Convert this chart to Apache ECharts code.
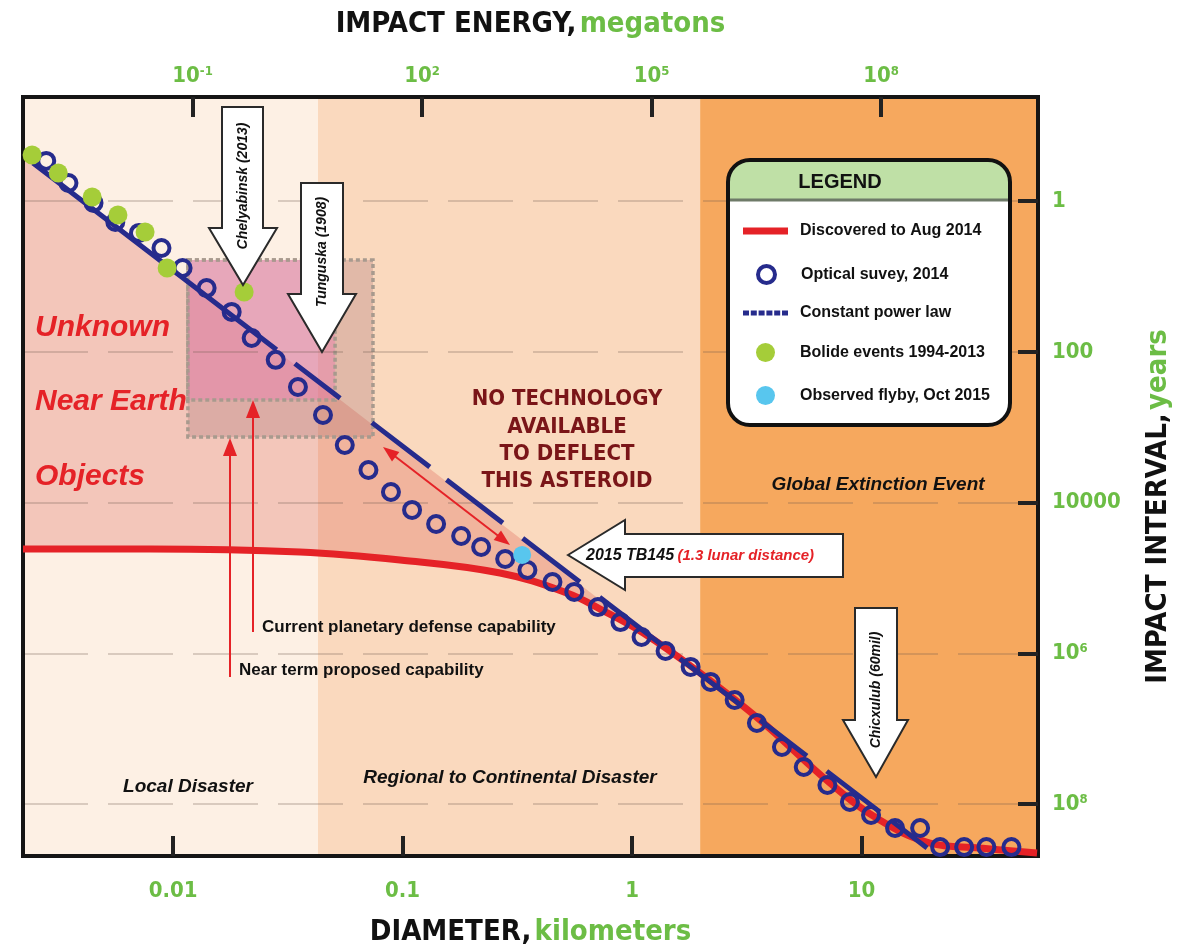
<!DOCTYPE html>
<html>
<head>
<meta charset="utf-8">
<script src="https://cdn.jsdelivr.net/npm/echarts@6/dist/echarts.min.js"></script>
<style>
  html, body { margin: 0; padding: 0; background: #ffffff; }
  #chart { width: 1191px; height: 947px; }
</style>
</head>
<body>
<div id="chart"></div>
<script>
// Near-Earth asteroid impact interval versus diameter

const NARROW = "'Liberation Sans Narrow','DejaVu Sans Condensed','Arial Narrow',sans-serif";
const SANS = "'Liberation Sans',Arial,sans-serif";
const GREEN = '#6CBD45';
const RED = '#E52227';
const NAVY = '#262B8C';
const FRAME = '#151515';

// Axis limits: diameter in km, impact interval in years
const diameterRange = [0.002218, 58.75];
const intervalRange = [0.0418, 4.86e8];
// Top axis counts impact energy in tenths of a megaton (1 -> 10^-1 Mt, 1000 -> 10^2 Mt, ...)
const energyRange = [0.006067, 1.127e11];

// Damage bands along the diameter axis
const bandEdges = [0.002218, 0.0428, 1.98, 58.75];
const bandColors = ['#FDF0E4', '#FAD9BE', '#F6A85E'];

// Discovered to Aug 2014
const discoveredD = [0.002218, 0.00794, 0.0357, 0.0975, 0.266, 0.521, 0.726, 1.12, 1.98, 3.61, 7.29, 12.0, 19.9, 32.8, 58.2];
const discoveredYears = [41200, 41200, 45200, 57700, 85900, 158000, 258000, 536000, 1.82e6, 7.64e6, 5.24e7, 1.62e8, 3.27e8, 3.81e8, 4.44e8];

// Optical survey, 2014
const surveyD = [0.0028, 0.0035, 0.0045, 0.0056, 0.0071, 0.0089, 0.011, 0.014, 0.018, 0.022,
                 0.028, 0.035, 0.045, 0.056, 0.071, 0.089, 0.11, 0.14, 0.18, 0.22,
                 0.28, 0.35, 0.45, 0.56, 0.71, 0.89, 1.1, 1.4, 1.8, 2.2,
                 2.8, 3.5, 4.5, 5.6, 7.1, 8.9, 11, 14, 18, 22,
                 28, 35, 45];
const surveyYears = [0.294, 0.577, 1.06, 1.90, 2.65, 4.20, 7.74, 14.3, 29.6, 65.6,
                     128, 293, 689, 1720, 3700, 7230, 12500, 19200, 27700, 38800,
                     56000, 78300, 113000, 153000, 243000, 384000, 605000, 929000, 1.51e6, 2.39e6,
                     4.15e6, 8.38e6, 1.74e7, 3.21e7, 5.56e7, 9.35e7, 1.39e8, 2.07e8, 2.07e8, 3.70e8,
                     3.70e8, 3.70e8, 3.70e8];

// Constant power law (a straight line on log-log axes)
const powerLawD = [0.00245, 19.3];
const powerLawYears = [0.313, 3.81e8];

// Bolide events 1994-2013 (last one is Chelyabinsk)
const bolideD = [0.00243, 0.00316, 0.00444, 0.00575, 0.00755, 0.00942, 0.0204];
const bolideYears = [0.245, 0.426, 0.885, 1.53, 2.58, 7.74, 16.1];

// Observed flyby, Oct 2015 (2015 TB145)
const flybyD = [0.332];
const flybyYears = [49500];

// Upper edge of the undiscovered-object gap (on the power law)
const gapTopD = [0.002218, 1.12];
const gapTopYears = [0.25, 5.4e5];

// Capability boxes: [corner, corner] as [diameter km, years]
const outerBox = [[0.0116, 6.06], [0.0743, 1350]];
const innerBox = [[0.0116, 6.06], [0.0508, 436]];
const boxFills = ['rgba(160,105,110,0.28)', 'rgba(236,120,175,0.42)'];

const pairs = (xs, ys) => xs.map((x, i) => [x, ys[i]]);

const tickFont = { fontFamily: NARROW, fontWeight: 'bold', fontSize: 22, color: GREEN };
const tickRich = {
  b: { fontFamily: NARROW, fontWeight: 'bold', fontSize: 22, color: GREEN },
  s: { fontFamily: NARROW, fontWeight: 'bold', fontSize: 13, color: GREEN, verticalAlign: 'top' }
};
const titleRich = {
  a: { fontFamily: NARROW, fontWeight: 'bold', fontSize: 29, color: '#111111' },
  g: { fontFamily: NARROW, fontWeight: 'bold', fontSize: 29, color: GREEN }
};
const pow10 = (e) => '{b|10}{s|' + e + '}';
const tickStyle = { show: true, inside: true, length: 20, lineStyle: { color: '#222222', width: 4 } };
const frameLine = { show: true, lineStyle: { color: FRAME, width: 4 } };

// Gap polygon: power-law edge on top, discovered curve underneath
const gapLowerD = discoveredD.filter(d => d <= gapTopD[1] + 1e-9);
const gapLowerY = discoveredYears.slice(0, gapLowerD.length);

function rectFromCorners(api, a, b) {
  const p = api.coord(a), q = api.coord(b);
  return { x: Math.min(p[0], q[0]), y: Math.min(p[1], q[1]), width: Math.abs(q[0] - p[0]), height: Math.abs(q[1] - p[1]) };
}

function arrowHead(x1, y1, x2, y2, len, half) {
  const dx = x2 - x1, dy = y2 - y1, L = Math.hypot(dx, dy);
  const ux = dx / L, uy = dy / L;
  const bx = x2 - ux * len, by = y2 - uy * len;
  return [[x2, y2], [bx - uy * half, by + ux * half], [bx + uy * half, by - ux * half]];
}

const calloutStyle = { fill: '#ffffff', stroke: '#2a2a2a', lineWidth: 2 };
const graphics = [
  // Callout arrows
  { type: 'polygon', z: 10, shape: { points: [[222,107],[263,107],[263,228],[277,228],[243,285],[209,228],[222,228]] }, style: calloutStyle },
  { type: 'text', z: 11, x: 243, y: 186, rotation: Math.PI / 2,
    style: { text: 'Chelyabinsk (2013)', fill: '#111', font: 'italic bold 14px ' + SANS, align: 'center', verticalAlign: 'middle' } },
  { type: 'polygon', z: 10, shape: { points: [[301,183],[343,183],[343,294],[356,294],[322,352],[288,294],[301,294]] }, style: calloutStyle },
  { type: 'text', z: 11, x: 322, y: 252, rotation: Math.PI / 2,
    style: { text: 'Tunguska (1908)', fill: '#111', font: 'italic bold 14px ' + SANS, align: 'center', verticalAlign: 'middle' } },
  { type: 'polygon', z: 10, shape: { points: [[855,608],[897,608],[897,720],[908,720],[876,777],[843,720],[855,720]] }, style: calloutStyle },
  { type: 'text', z: 11, x: 876, y: 690, rotation: Math.PI / 2,
    style: { text: 'Chicxulub (60mil)', fill: '#111', font: 'italic bold 14px ' + SANS, align: 'center', verticalAlign: 'middle' } },
  { type: 'polygon', z: 10, shape: { points: [[568,555],[625,520],[625,534],[843,534],[843,577],[625,577],[625,590]] }, style: calloutStyle },
  { type: 'text', z: 11, x: 586, y: 556,
    style: { text: '{a|2015 TB145} {b|(1.3 lunar distance)}', align: 'left', verticalAlign: 'middle',
      rich: { a: { fontFamily: SANS, fontStyle: 'italic', fontWeight: 'bold', fontSize: 16, fill: '#111' },
              b: { fontFamily: SANS, fontStyle: 'italic', fontWeight: 'bold', fontSize: 15, fill: RED } } } },

  // Capability arrows
  { type: 'line', z: 10, shape: { x1: 253, y1: 632, x2: 253, y2: 416 }, style: { stroke: RED, lineWidth: 2 } },
  { type: 'polygon', z: 10, shape: { points: arrowHead(253, 632, 253, 400, 18, 7) }, style: { fill: RED } },
  { type: 'line', z: 10, shape: { x1: 230, y1: 677, x2: 230, y2: 454 }, style: { stroke: RED, lineWidth: 2 } },
  { type: 'polygon', z: 10, shape: { points: arrowHead(230, 677, 230, 438, 18, 7) }, style: { fill: RED } },
  // Double arrow along the power law
  { type: 'line', z: 10, shape: { x1: 392, y1: 454, x2: 501, y2: 538 }, style: { stroke: RED, lineWidth: 2 } },
  { type: 'polygon', z: 10, shape: { points: arrowHead(383, 447, 510, 545, 16, 6) }, style: { fill: RED } },
  { type: 'polygon', z: 10, shape: { points: arrowHead(510, 545, 383, 447, 16, 6) }, style: { fill: RED } },

  // Annotation text
  { type: 'text', z: 11, x: 35, y: 328, style: { text: 'Unknown', fill: RED, font: 'italic bold 30px ' + SANS, verticalAlign: 'middle' } },
  { type: 'text', z: 11, x: 35, y: 402, style: { text: 'Near Earth', fill: RED, font: 'italic bold 30px ' + SANS, verticalAlign: 'middle' } },
  { type: 'text', z: 11, x: 35, y: 477, style: { text: 'Objects', fill: RED, font: 'italic bold 30px ' + SANS, verticalAlign: 'middle' } },
  { type: 'text', z: 11, x: 567, y: 399, style: { text: 'NO TECHNOLOGY', fill: '#7A1518', font: 'bold 22px ' + NARROW, align: 'center', verticalAlign: 'middle' } },
  { type: 'text', z: 11, x: 567, y: 427, style: { text: 'AVAILABLE', fill: '#7A1518', font: 'bold 22px ' + NARROW, align: 'center', verticalAlign: 'middle' } },
  { type: 'text', z: 11, x: 567, y: 454, style: { text: 'TO DEFLECT', fill: '#7A1518', font: 'bold 22px ' + NARROW, align: 'center', verticalAlign: 'middle' } },
  { type: 'text', z: 11, x: 567, y: 481, style: { text: 'THIS ASTEROID', fill: '#7A1518', font: 'bold 22px ' + NARROW, align: 'center', verticalAlign: 'middle' } },
  { type: 'text', z: 11, x: 878, y: 485, style: { text: 'Global Extinction Event', fill: '#111', font: 'italic bold 19px ' + SANS, align: 'center', verticalAlign: 'middle' } },
  { type: 'text', z: 11, x: 188, y: 787, style: { text: 'Local Disaster', fill: '#111', font: 'italic bold 19px ' + SANS, align: 'center', verticalAlign: 'middle' } },
  { type: 'text', z: 11, x: 510, y: 778, style: { text: 'Regional to Continental Disaster', fill: '#111', font: 'italic bold 19px ' + SANS, align: 'center', verticalAlign: 'middle' } },
  { type: 'text', z: 11, x: 262, y: 627, style: { text: 'Current planetary defense capability', fill: '#111', font: 'bold 17px ' + SANS, verticalAlign: 'middle' } },
  { type: 'text', z: 11, x: 239, y: 670, style: { text: 'Near term proposed capability', fill: '#111', font: 'bold 17px ' + SANS, verticalAlign: 'middle' } },

  // Legend frame
  { type: 'rect', z: 20, shape: { x: 728, y: 160, width: 282, height: 265, r: 22 }, style: { fill: '#ffffff' } },
  { type: 'rect', z: 21, shape: { x: 729, y: 161, width: 280, height: 39, r: [21, 21, 0, 0] }, style: { fill: '#BFE0A6' } },
  { type: 'line', z: 21, shape: { x1: 729, y1: 200, x2: 1009, y2: 200 }, style: { stroke: '#6E7A68', lineWidth: 3 } },
  { type: 'rect', z: 22, shape: { x: 728, y: 160, width: 282, height: 265, r: 22 }, style: { fill: null, stroke: '#111', lineWidth: 4 } },
  { type: 'text', z: 22, x: 840, y: 182, style: { text: 'LEGEND', fill: '#111', font: 'bold 20px ' + SANS, align: 'center', verticalAlign: 'middle' } }
];

function legendRow(name, left, top, iconH, extra) {
  return Object.assign({
    data: [name], left: left, top: top, padding: 0, itemWidth: 45, itemHeight: iconH,
    selectedMode: false, z: 30,
    textStyle: { fontFamily: SANS, fontWeight: 'bold', fontSize: 16, color: '#111', padding: [0, 0, 0, 7] }
  }, extra);
}

const option = {
  animation: false,
  backgroundColor: '#ffffff',
  grid: { left: 23, right: 153, top: 97, bottom: 91, outerBoundsMode: 'none', containLabel: false,
          show: true, borderColor: FRAME, borderWidth: 4, backgroundColor: 'transparent' },
  xAxis: [
    {
      type: 'log', position: 'bottom', min: diameterRange[0], max: diameterRange[1],
      axisLine: frameLine, axisTick: tickStyle, splitLine: { show: false },
      axisLabel: Object.assign({ margin: 24, showMinLabel: false, showMaxLabel: false,
        formatter: v => { const e = Math.round(Math.log10(v)); return e < 0 ? v.toFixed(-e) : String(Math.pow(10, e)); } }, tickFont),
      name: '{a|DIAMETER,} {g|kilometers}', nameLocation: 'middle', nameGap: 62,
      nameTextStyle: { rich: titleRich }
    },
    {
      type: 'log', logBase: 1000, position: 'top', min: energyRange[0], max: energyRange[1],
      axisLine: frameLine, axisTick: tickStyle, splitLine: { show: false },
      axisLabel: Object.assign({ margin: 10, showMinLabel: false, showMaxLabel: false, rich: tickRich,
        formatter: v => pow10(Math.round(Math.log10(v)) - 1) }, tickFont),
      name: '{a|IMPACT ENERGY,} {g|megatons}', nameLocation: 'middle', nameGap: 58,
      nameTextStyle: { rich: titleRich }
    }
  ],
  yAxis: [
    {
      type: 'log', logBase: 100, position: 'right', inverse: true, min: intervalRange[0], max: intervalRange[1],
      axisLine: frameLine, axisTick: tickStyle,
      splitLine: { show: true, lineStyle: { color: 'rgba(110,90,80,0.33)', width: 1.5, type: [65, 20] } },
      axisLabel: Object.assign({ margin: 14, showMinLabel: false, showMaxLabel: false, rich: tickRich,
        formatter: v => { const e = Math.round(Math.log10(v)); return e <= 4 ? String(Math.pow(10, e)) : pow10(e); } }, tickFont),
      name: '{a|IMPACT INTERVAL,} {g|years}', nameLocation: 'middle', nameRotate: 90, nameGap: 106,
      nameTextStyle: { rich: titleRich, padding: [0, 60, 0, 0] }
    },
    {
      // Left edge of the frame
      type: 'log', logBase: 100, position: 'left', inverse: true, min: intervalRange[0], max: intervalRange[1],
      axisLine: frameLine, axisTick: { show: false }, axisLabel: { show: false }, splitLine: { show: false }
    }
  ],
  legend: [
    legendRow('Discovered to Aug 2014', 743, 223, 7, { data: [{ name: 'Discovered to Aug 2014', icon: 'rect', itemStyle: { color: RED } }] }),
    legendRow('Optical suvey, 2014', 756, 264, 17, { itemStyle: { color: 'rgba(0,0,0,0)', borderColor: NAVY, borderWidth: 4 } }),
    legendRow('Constant power law', 743, 305, 5, { data: [{ name: 'Constant power law',
      icon: 'path://M0,0h6v5h-6z M7.8,0h6v5h-6z M15.6,0h6v5h-6z M23.4,0h6v5h-6z M31.2,0h6v5h-6z M39,0h6v5h-6z',
      itemStyle: { color: NAVY } }] }),
    legendRow('Bolide events 1994-2013', 756, 343, 19),
    legendRow('Observed flyby, Oct 2015', 756, 386, 19)
  ],
  graphic: graphics,
  series: [
    {
      // Damage bands
      name: 'bands', type: 'custom', z: -3, silent: true,
      data: bandColors.map((c, i) => [bandEdges[i], bandEdges[i + 1]]),
      renderItem: (params, api) => ({
        type: 'rect',
        shape: rectFromCorners(api, [api.value(0), intervalRange[0]], [api.value(1), intervalRange[1]]),
        style: { fill: bandColors[params.dataIndex] }
      })
    },
    {
      // Undiscovered objects between power law and discovered curve
      name: 'gap', type: 'custom', z: -2, silent: true, data: [[gapTopD[0], gapTopYears[0]]],
      renderItem: (params, api) => {
        const pts = gapTopD.map((d, i) => api.coord([d, gapTopYears[i]]));
        for (let i = gapLowerD.length - 1; i >= 0; i--) pts.push(api.coord([gapLowerD[i], gapLowerY[i]]));
        return { type: 'polygon', shape: { points: pts }, style: { fill: 'rgba(215,70,60,0.25)' } };
      }
    },
    {
      // Chelyabinsk-to-Tunguska capability boxes
      name: 'boxes', type: 'custom', z: -1, silent: true,
      data: [outerBox[0].concat(outerBox[1]), innerBox[0].concat(innerBox[1])],
      renderItem: (params, api) => ({
        type: 'rect',
        shape: rectFromCorners(api, [api.value(0), api.value(1)], [api.value(2), api.value(3)]),
        style: { fill: boxFills[params.dataIndex], stroke: '#A89A8E', lineWidth: 3.5, lineDash: [4, 3] }
      })
    },
    {
      name: 'Discovered to Aug 2014', type: 'line', z: 3, data: pairs(discoveredD, discoveredYears),
      smooth: 0.4, symbol: 'none', lineStyle: { color: RED, width: 7 }, itemStyle: { color: RED }
    },
    {
      name: 'Constant power law', type: 'line', z: 4, data: pairs(powerLawD, powerLawYears),
      symbol: 'none', itemStyle: { color: NAVY },
      lineStyle: { color: NAVY, width: 5, cap: 'butt',
        type: [307, 23, 57, 40, 73, 21, 71, 25, 72, 25, 76, 25, 76, 25, 59, 25, 67, 16, 100, 20] }
    },
    {
      name: 'Optical suvey, 2014', type: 'scatter', z: 5, data: pairs(surveyD, surveyYears),
      symbol: 'circle', symbolSize: 16,
      itemStyle: { color: 'rgba(0,0,0,0)', borderColor: NAVY, borderWidth: 4, opacity: 1 }
    },
    {
      name: 'Bolide events 1994-2013', type: 'scatter', z: 6, data: pairs(bolideD, bolideYears),
      symbol: 'circle', symbolSize: 19, itemStyle: { color: '#A5CD39', opacity: 1 }
    },
    {
      name: 'Observed flyby, Oct 2015', type: 'scatter', z: 7, data: pairs(flybyD, flybyYears),
      symbol: 'circle', symbolSize: 18, itemStyle: { color: '#58C6EE', opacity: 1 }
    }
  ]
};

const chart = echarts.init(document.getElementById('chart'));
chart.setOption(option);
</script>
</body>
</html>
